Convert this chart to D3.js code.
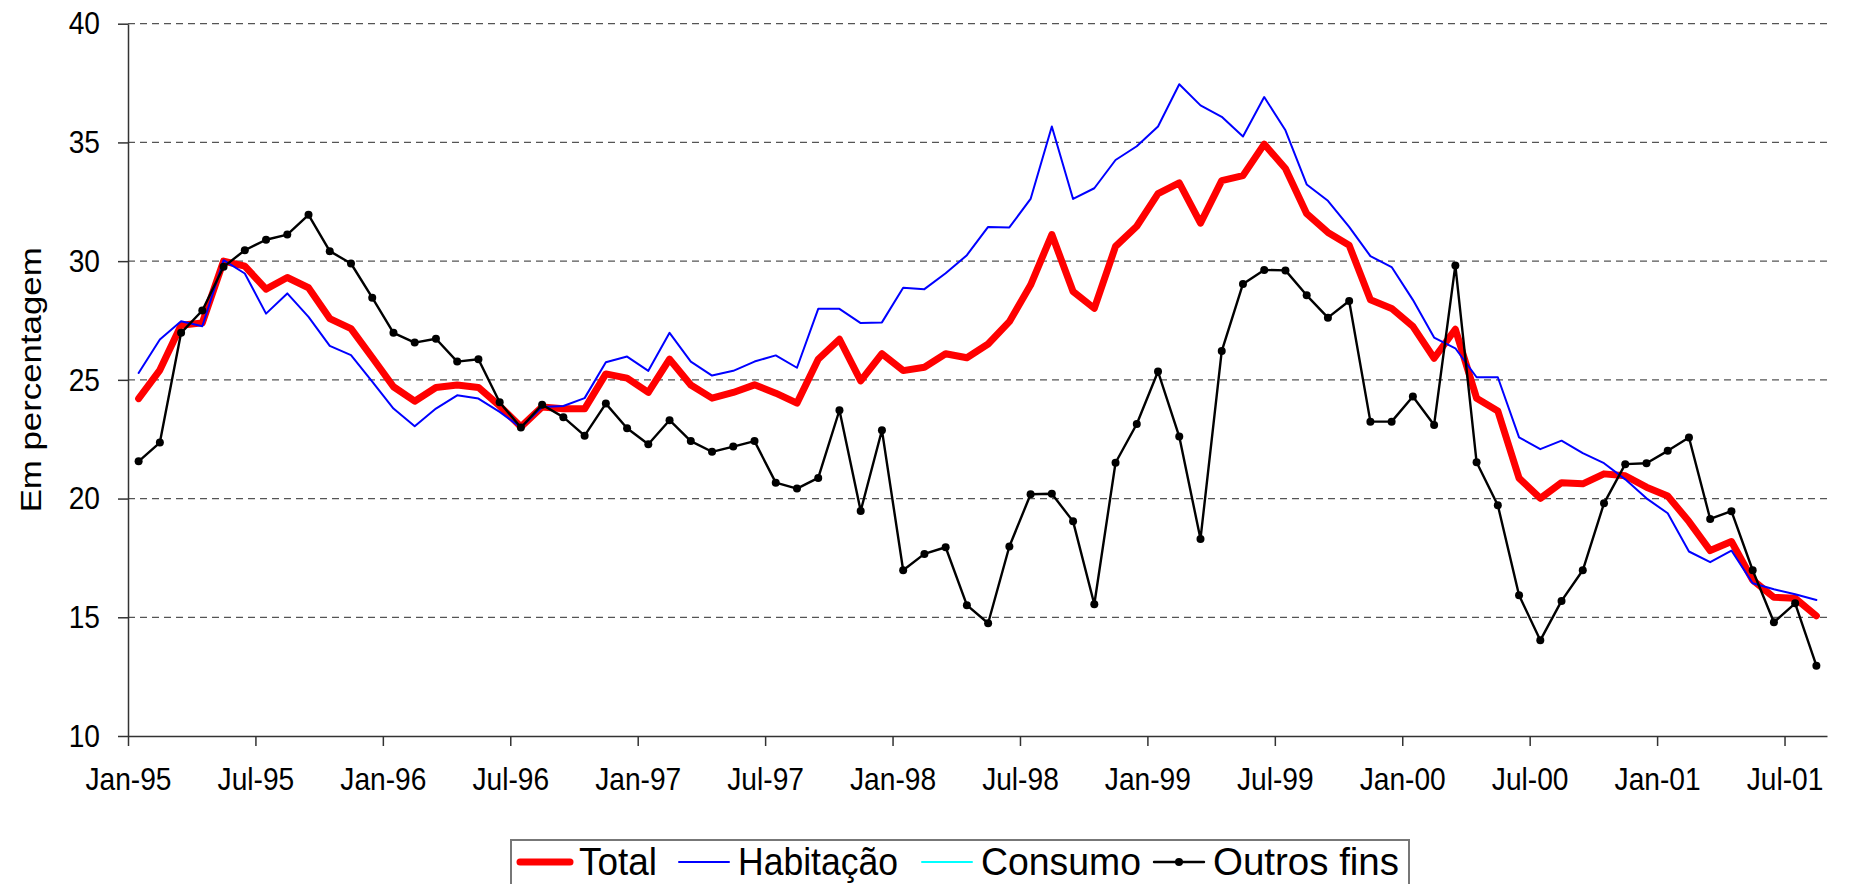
<!DOCTYPE html>
<html lang="pt">
<head>
<meta charset="UTF-8">
<title>Em percentagem</title>
<script src="https://d3js.org/d3.v7.min.js"></script>
<style>
  html, body { margin: 0; padding: 0; background: #fff; }
  svg { display: block; font-family: "Liberation Sans", Arial, sans-serif; }
</style>
</head>
<body>
<svg id="chart" width="1856" height="884"></svg>
<script>
// monthly categories, Jan-95 .. Aug-01
var months = d3.timeMonth.range(new Date(1995, 0, 1), new Date(2001, 8, 1));
var tickLabels = ["Jan-95", "Jul-95", "Jan-96", "Jul-96", "Jan-97", "Jul-97", "Jan-98",
                  "Jul-98", "Jan-99", "Jul-99", "Jan-00", "Jul-00", "Jan-01", "Jul-01"];
var yTicks = [10, 15, 20, 25, 30, 35, 40];

var total = [
  24.21, 25.41, 27.30, 27.40, 30.00, 29.79, 28.82, 29.31, 28.88, 27.58,
  27.16, 25.94, 24.71, 24.10, 24.68, 24.78, 24.68, 23.90, 23.02, 23.86,
  23.78, 23.78, 25.25, 25.07, 24.47, 25.87, 24.78, 24.23, 24.47, 24.79,
  24.44, 24.02, 25.87, 26.71, 24.96, 26.10, 25.39, 25.53, 26.10, 25.93,
  26.51, 27.45, 28.99, 31.12, 28.72, 28.01, 30.62, 31.47, 32.84, 33.30,
  31.60, 33.39, 33.60, 34.93, 33.90, 32.00, 31.21, 30.67, 28.37, 28.01,
  27.25, 25.91, 27.13, 24.23, 23.69, 20.86, 20.01, 20.67, 20.62, 21.04,
  20.96, 20.48, 20.11, 19.03, 17.81, 18.19, 16.57, 15.84, 15.80, 15.06
];
var habitacao = [
  25.29, 26.70, 27.47, 27.26, 30.04, 29.48, 27.79, 28.64, 27.65, 26.43,
  26.04, 24.92, 23.79, 23.05, 23.79, 24.35, 24.21, 23.65, 22.99, 23.86,
  23.90, 24.23, 25.74, 25.98, 25.38, 26.98, 25.77, 25.18, 25.38, 25.77,
  26.03, 25.51, 27.99, 27.99, 27.39, 27.42, 28.88, 28.82, 29.49, 30.25,
  31.44, 31.42, 32.62, 35.67, 32.62, 33.07, 34.26, 34.84, 35.67, 37.45,
  36.56, 36.08, 35.25, 36.91, 35.51, 33.23, 32.54, 31.44, 30.21, 29.75,
  28.37, 26.78, 26.33, 25.11, 25.11, 22.58, 22.08, 22.44, 21.91, 21.49,
  20.81, 20.01, 19.38, 17.77, 17.32, 17.81, 16.43, 16.18, 15.97, 15.73
];
var consumo = [];  // in the legend, but no line is drawn
var outrosFins = [
  21.57, 22.36, 26.98, 27.92, 29.76, 30.46, 30.90, 31.12, 31.95, 30.42,
  29.90, 28.46, 26.98, 26.57, 26.73, 25.77, 25.87, 24.06, 22.99, 23.95,
  23.43, 22.65, 24.00, 22.96, 22.29, 23.30, 22.42, 21.97, 22.19, 22.42,
  20.67, 20.42, 20.87, 23.72, 19.48, 22.88, 16.98, 17.67, 17.95, 15.51,
  14.75, 17.98, 20.18, 20.20, 19.04, 15.55, 21.51, 23.14, 25.35, 22.61,
  18.30, 26.21, 29.04, 29.63, 29.61, 28.56, 27.62, 28.32, 23.24, 23.24,
  24.30, 23.10, 29.82, 21.53, 19.72, 15.93, 14.03, 15.69, 16.98, 19.80,
  21.45, 21.49, 22.01, 22.57, 19.14, 19.47, 16.98, 14.79, 15.59, 12.96
];

var series = [
  { name: "Total", values: total, color: "#ff0000", width: 7 },
  { name: "Habitação", values: habitacao, color: "#0000ff", width: 2 },
  { name: "Consumo", values: consumo, color: "#00ffff", width: 2 },
  { name: "Outros fins", values: outrosFins, color: "#000000", width: 2.4, marker: true }
];

var svg = d3.select("#chart");
var plotL = 128, plotR = 1827, plotT = 23.7, plotB = 736;

// x: one slot per month, ticks sit between slots
var x = d3.scaleLinear().domain([0, months.length]).range([plotL, plotR]);
var y = d3.scaleLinear().domain([10, 40]).range([plotB, plotT]);

svg.append("rect").attr("width", 1856).attr("height", 884).attr("fill", "#fff");

// dashed gridlines
svg.append("g")
  .selectAll("line")
  .data(yTicks.slice(1))
  .join("line")
  .attr("x1", plotL).attr("x2", plotR)
  .attr("y1", function(d) { return y(d); })
  .attr("y2", function(d) { return y(d); })
  .attr("stroke", "#555")
  .attr("stroke-width", 1.3)
  .attr("stroke-dasharray", "7,5");

// text in the source is a bit taller than plain Arial, so squeeze it horizontally
var sx = 0.88;

var yAxis = svg.append("g")
  .attr("transform", "translate(" + plotL + ",0)")
  .call(d3.axisLeft(y).tickValues(yTicks).tickSize(10).tickPadding(18).tickSizeOuter(0));
yAxis.selectAll(".tick text").attr("x", -28 / sx);

var tickIdx = tickLabels.map(function(d, i) { return i * 6; });
var xAxis = svg.append("g")
  .attr("transform", "translate(0," + plotB + ")")
  .call(d3.axisBottom(x).tickValues(tickIdx).tickSize(10).tickPadding(21).tickSizeOuter(0)
    .tickFormat(function(d, i) { return tickLabels[i]; }));

[yAxis, xAxis].forEach(function(a) {
  a.select(".domain").attr("stroke", "#333").attr("stroke-width", 1.5);
  a.selectAll(".tick line").attr("stroke", "#333").attr("stroke-width", 1.5);
  a.selectAll(".tick text").attr("fill", "#000")
    .attr("transform", "scale(" + sx + ",1)")
    .style("font-size", "32px")
    .style("font-family", "'Liberation Sans', Arial, sans-serif");
});

svg.append("text")
  .attr("transform", "translate(41," + ((plotT + plotB) / 2) + ") rotate(-90)")
  .attr("text-anchor", "middle")
  .attr("textLength", 265)
  .attr("lengthAdjust", "spacingAndGlyphs")
  .style("font-size", "30px")
  .text("Em percentagem");

var line = d3.line()
  .x(function(d, i) { return x(i + 0.5); })
  .y(function(d) { return y(d); });

series.forEach(function(s) {
  if (!s.values.length) return;
  svg.append("path")
    .datum(s.values)
    .attr("fill", "none")
    .attr("stroke", s.color)
    .attr("stroke-width", s.width)
    .attr("stroke-linejoin", "round")
    .attr("stroke-linecap", "round")
    .attr("d", line);
  if (s.marker) {
    svg.append("g")
      .selectAll("circle")
      .data(s.values)
      .join("circle")
      .attr("cx", function(d, i) { return x(i + 0.5); })
      .attr("cy", function(d) { return y(d); })
      .attr("r", 4)
      .attr("fill", s.color);
  }
});

// legend (its bottom edge runs off the picture, as in the source)
var legend = svg.append("g");
legend.append("rect")
  .attr("x", 511).attr("y", 840).attr("width", 898).attr("height", 60)
  .attr("fill", "#fff").attr("stroke", "#777").attr("stroke-width", 2);

var legendX = [520, 679, 922, 1154];
var legendW = [78, 160, 160, 186];
series.forEach(function(s, i) {
  var g = legend.append("g").attr("transform", "translate(" + legendX[i] + ",862)");
  g.append("line").attr("x1", 0).attr("x2", 50)
    .attr("stroke", s.color).attr("stroke-width", s.width)
    .attr("stroke-linecap", "round");
  if (s.marker) g.append("circle").attr("cx", 25).attr("r", 4).attr("fill", s.color);
  g.append("text").attr("x", 59).attr("y", 13)
    .attr("textLength", legendW[i]).attr("lengthAdjust", "spacingAndGlyphs")
    .style("font-size", "38px")
    .text(s.name);
});
</script>
</body>
</html>
